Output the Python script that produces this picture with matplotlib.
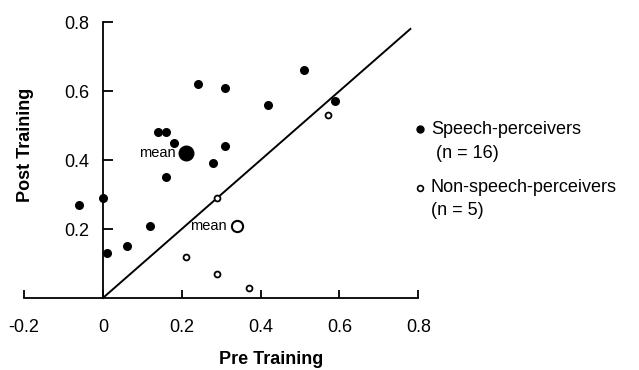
import matplotlib
matplotlib.use("Agg")
import matplotlib.pyplot as plt

plt.rcParams['font.family'] = ['Liberation Sans', 'DejaVu Sans']

# Speech-perceivers (filled)
speech_pre = [-0.06, 0.00, 0.01, 0.06, 0.12, 0.14, 0.16, 0.18, 0.16, 0.24, 0.31, 0.31, 0.28, 0.42, 0.51, 0.59]
speech_post = [0.27, 0.29, 0.13, 0.15, 0.21, 0.48, 0.48, 0.45, 0.35, 0.62, 0.61, 0.44, 0.39, 0.56, 0.66, 0.57]
speech_mean = (0.21, 0.42)

# Non-speech-perceivers (open)
non_pre = [0.29, 0.21, 0.29, 0.37, 0.57]
non_post = [0.29, 0.12, 0.07, 0.03, 0.53]
non_mean = (0.34, 0.21)

diag = [0.0, 0.78]
xticks = [-0.2, 0, 0.2, 0.4, 0.6, 0.8]
xtick_labels = ['-0.2', '0', '0.2', '0.4', '0.6', '0.8']
yticks = [0.2, 0.4, 0.6, 0.8]
ytick_labels = ['0.2', '0.4', '0.6', '0.8']

fig = plt.figure(figsize=(6.39, 3.70), dpi=100)
ax = fig.add_axes([0.0376, 0.1946, 0.617, 0.7459])
ax.set_xlim(-0.2, 0.8)
ax.set_ylim(0, 0.8)

for s in ['top', 'right']:
    ax.spines[s].set_visible(False)
ax.spines['left'].set_position(('data', 0))
ax.spines['left'].set_linewidth(1.3)
ax.spines['bottom'].set_linewidth(1.3)

ax.set_xticks(xticks)
ax.set_xticklabels(xtick_labels)
ax.set_yticks(yticks)
ax.set_yticklabels(ytick_labels)
ax.tick_params(axis='x', direction='in', length=6, width=1.3, pad=15, labelsize=13)
ax.tick_params(axis='y', direction='in', length=7, width=1.3, pad=10, labelsize=13)

ax.plot(diag, diag, color='black', lw=1.4, clip_on=False)

ax.scatter(speech_pre, speech_post, s=30, color='black', zorder=3, clip_on=False)
ax.scatter([speech_mean[0]], [speech_mean[1]], s=110, color='black', zorder=3, clip_on=False)
ax.scatter(non_pre, non_post, s=18, facecolor='white', edgecolor='black', linewidths=1.3, zorder=3, clip_on=False)
ax.scatter([non_mean[0]], [non_mean[1]], s=65, facecolor='white', edgecolor='black', linewidths=1.5, zorder=3, clip_on=False)

ax.text(speech_mean[0] - 0.025, speech_mean[1], 'mean', ha='right', va='center', fontsize=10.5)
ax.text(non_mean[0] - 0.025, non_mean[1], 'mean', ha='right', va='center', fontsize=10.5)

fig.text(26/639, 1 - 145/370, 'Post Training', rotation=90, ha='center', va='center', fontsize=13, fontweight='bold')
fig.text(271/639, 1 - 359/370, 'Pre Training', ha='center', va='center', fontsize=13, fontweight='bold')

# Legend
ax.plot([420/639], [1 - 129/370], 'o', color='black', ms=5, transform=fig.transFigure, clip_on=False)
ax.plot([420/639], [1 - 188/370], 'o', mfc='white', mec='black', mew=1.2, ms=4.2, transform=fig.transFigure, clip_on=False)
fig.text(431/639, 1 - 129/370, 'Speech-perceivers', ha='left', va='center', fontsize=13)
fig.text(436/639, 1 - 153/370, '(n = 16)', ha='left', va='center', fontsize=13)
fig.text(431/639, 1 - 188/370, 'Non-speech-perceivers', ha='left', va='center', fontsize=13)
fig.text(431/639, 1 - 211/370, '(n = 5)', ha='left', va='center', fontsize=13)

fig.savefig('out.png', dpi=100)
